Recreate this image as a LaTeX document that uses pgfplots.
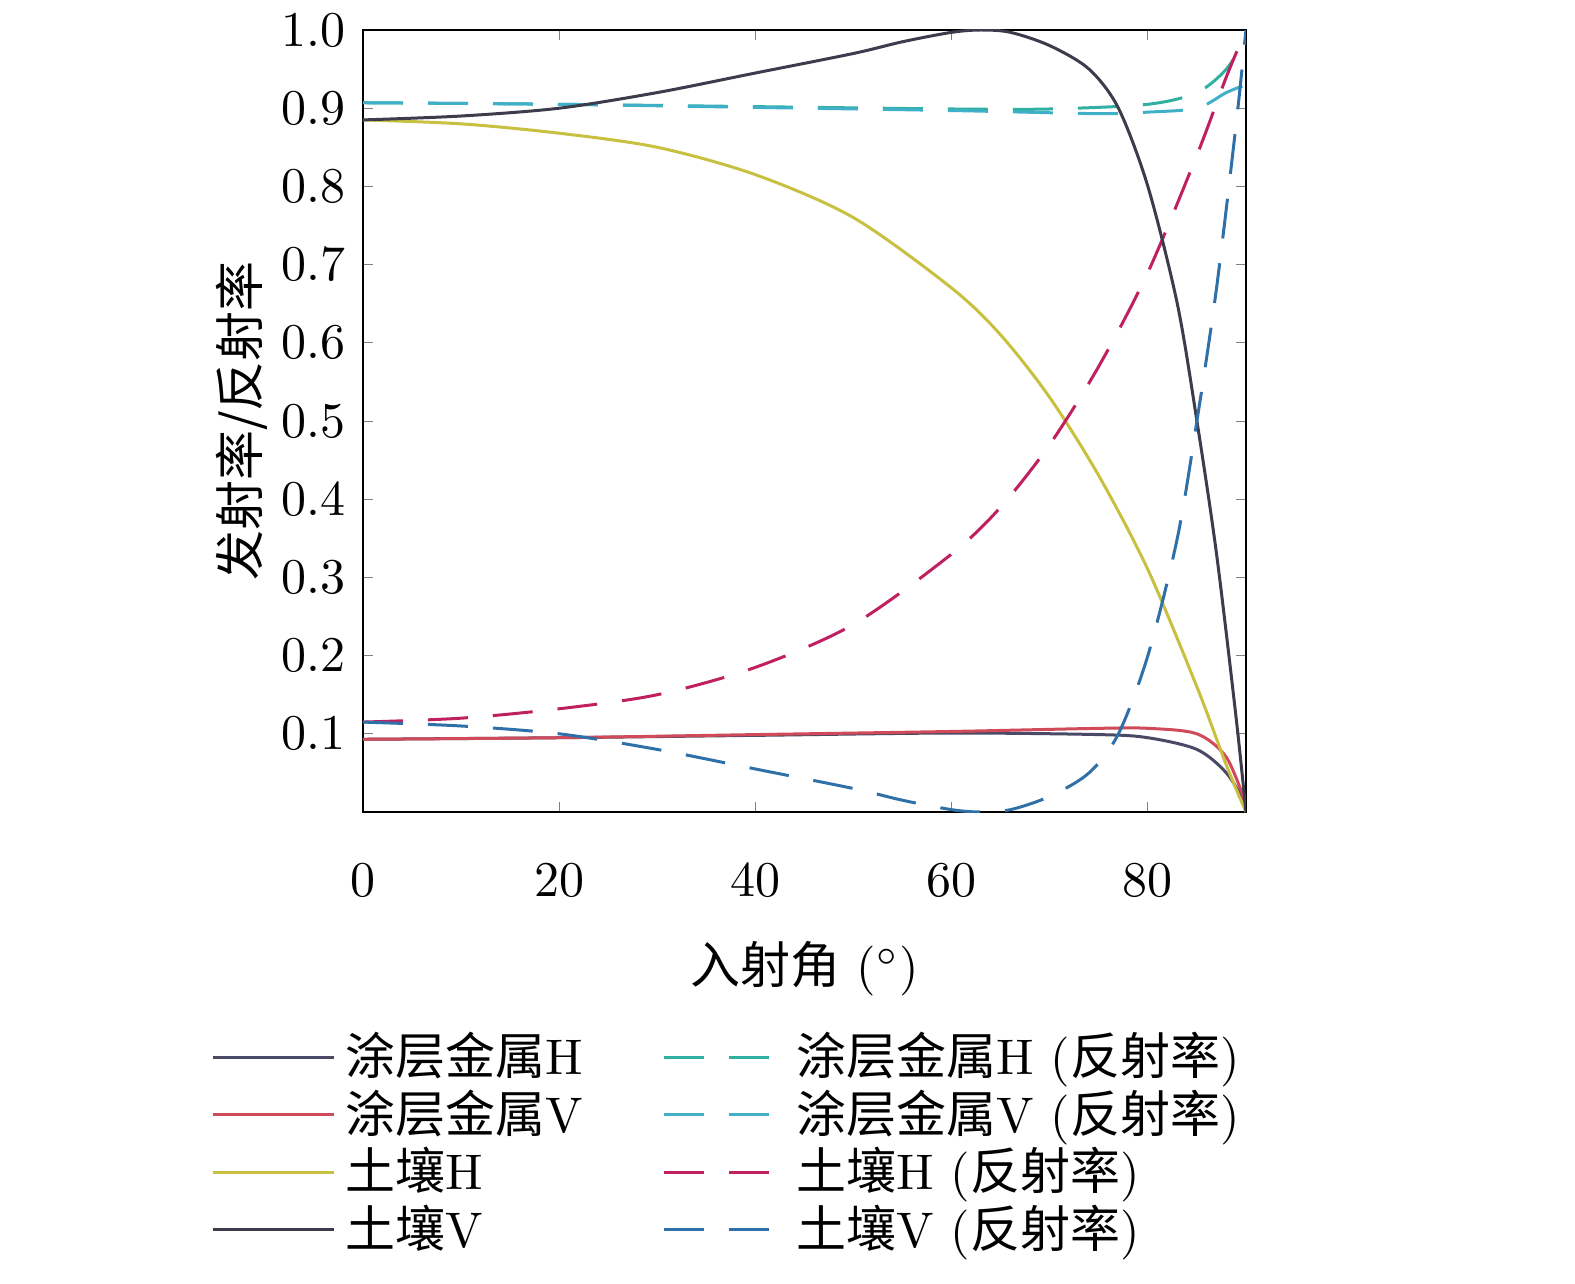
\documentclass[border=0pt]{standalone}
\usepackage{pgfplots}
\pgfplotsset{compat=1.18}
\usepackage{fontspec}
\newfontfamily\cjk{Noto Sans CJK SC}
\definecolor{cH}{HTML}{4A4A66}
\definecolor{cV}{HTML}{D04A5A}
\definecolor{sH}{HTML}{C8C040}
\definecolor{sV}{HTML}{3C3C4C}
\definecolor{rcH}{HTML}{30B0A0}
\definecolor{rcV}{HTML}{40B0C8}
\definecolor{rsH}{HTML}{C02060}
\definecolor{rsV}{HTML}{2F70A8}
\begin{document}
\begin{tikzpicture}
\begin{axis}[scale only axis, width=176.6pt, height=156.4pt,
 xmin=0, xmax=90, ymin=0, ymax=1,
 xtick={0,20,40,60,80}, ytick={0.1,0.2,...,1.0},
 yticklabel style={/pgf/number format/fixed,/pgf/number format/precision=1,/pgf/number format/fixed zerofill},
 xticklabel style={yshift=-7pt},
 tick align=inside, major tick length=2pt,
 xlabel={{\cjk 入射角} ($^\circ$)}, ylabel={\cjk 发射率/反射率},
 xlabel style={yshift=-2pt}, ylabel style={yshift=-4pt},
 every axis plot/.append style={line width=0.6pt, smooth},
 legend columns=2, legend cell align=left,
 legend style={draw=none, fill=none, at={(axis description cs:-0.19,-0.255)}, anchor=north west, font=\normalsize, /tikz/every even column/.append style={column sep=14pt}, row sep=-2.5pt},
 legend image code/.code={\draw[#1] (0cm,0cm) -- (0.85cm,0cm);},
 dashed/.style={dash pattern=on 8pt off 5pt}]
\addplot[cH] coordinates {(0,0.093)(20,0.095)(40,0.098)(60,0.101)(75,0.099)(80,0.095)(85,0.08)(88,0.05)(90,0.01)};
\addlegendentry{{\cjk 涂层金属}H}
\addplot[rcH, dashed] coordinates {(0,0.907)(20,0.905)(40,0.902)(60,0.899)(70,0.899)(80,0.905)(85,0.92)(88,0.95)(90,0.99)};
\addlegendentry{{\cjk 涂层金属}H ({\cjk 反射率})}
\addplot[cV] coordinates {(0,0.093)(20,0.095)(40,0.099)(60,0.103)(75,0.107)(80,0.107)(85,0.1)(88,0.07)(90,0.01)};
\addlegendentry{{\cjk 涂层金属}V}
\addplot[rcV, dashed] coordinates {(0,0.907)(20,0.905)(40,0.901)(60,0.897)(75,0.893)(80,0.895)(85,0.9)(88,0.92)(90,0.93)};
\addlegendentry{{\cjk 涂层金属}V ({\cjk 反射率})}
\addplot[sH] coordinates {(0,0.885)(10,0.88)(20,0.868)(30,0.85)(40,0.815)(50,0.76)(60,0.67)(65,0.61)(70,0.53)(75,0.43)(80,0.31)(85,0.16)(88,0.06)(90,0)};
\addlegendentry{{\cjk 土壤}H}
\addplot[rsH, dashed] coordinates {(0,0.115)(10,0.12)(20,0.132)(30,0.15)(40,0.185)(50,0.24)(60,0.33)(65,0.39)(70,0.47)(75,0.57)(80,0.69)(85,0.84)(88,0.94)(90,1)};
\addlegendentry{{\cjk 土壤}H ({\cjk 反射率})}
\addplot[sV] coordinates {(0,0.885)(10,0.89)(20,0.9)(30,0.92)(40,0.945)(50,0.97)(55,0.985)(60,0.997)(63,1.0)(66,0.997)(70,0.98)(74,0.95)(77,0.9)(80,0.8)(83,0.65)(85,0.5)(87,0.33)(89,0.12)(90,0)};
\addlegendentry{{\cjk 土壤}V}
\addplot[rsV, dashed] coordinates {(0,0.115)(10,0.11)(20,0.1)(30,0.08)(40,0.055)(50,0.03)(55,0.015)(60,0.003)(63,0)(66,0.003)(70,0.02)(74,0.05)(77,0.1)(80,0.2)(83,0.35)(85,0.5)(87,0.67)(89,0.88)(90,1)};
\addlegendentry{{\cjk 土壤}V ({\cjk 反射率})}
\end{axis}
\pgfresetboundingbox
\useasboundingbox (-72.6pt,-94.2pt) rectangle (242.4pt,162.4pt);
\end{tikzpicture}
\end{document}
